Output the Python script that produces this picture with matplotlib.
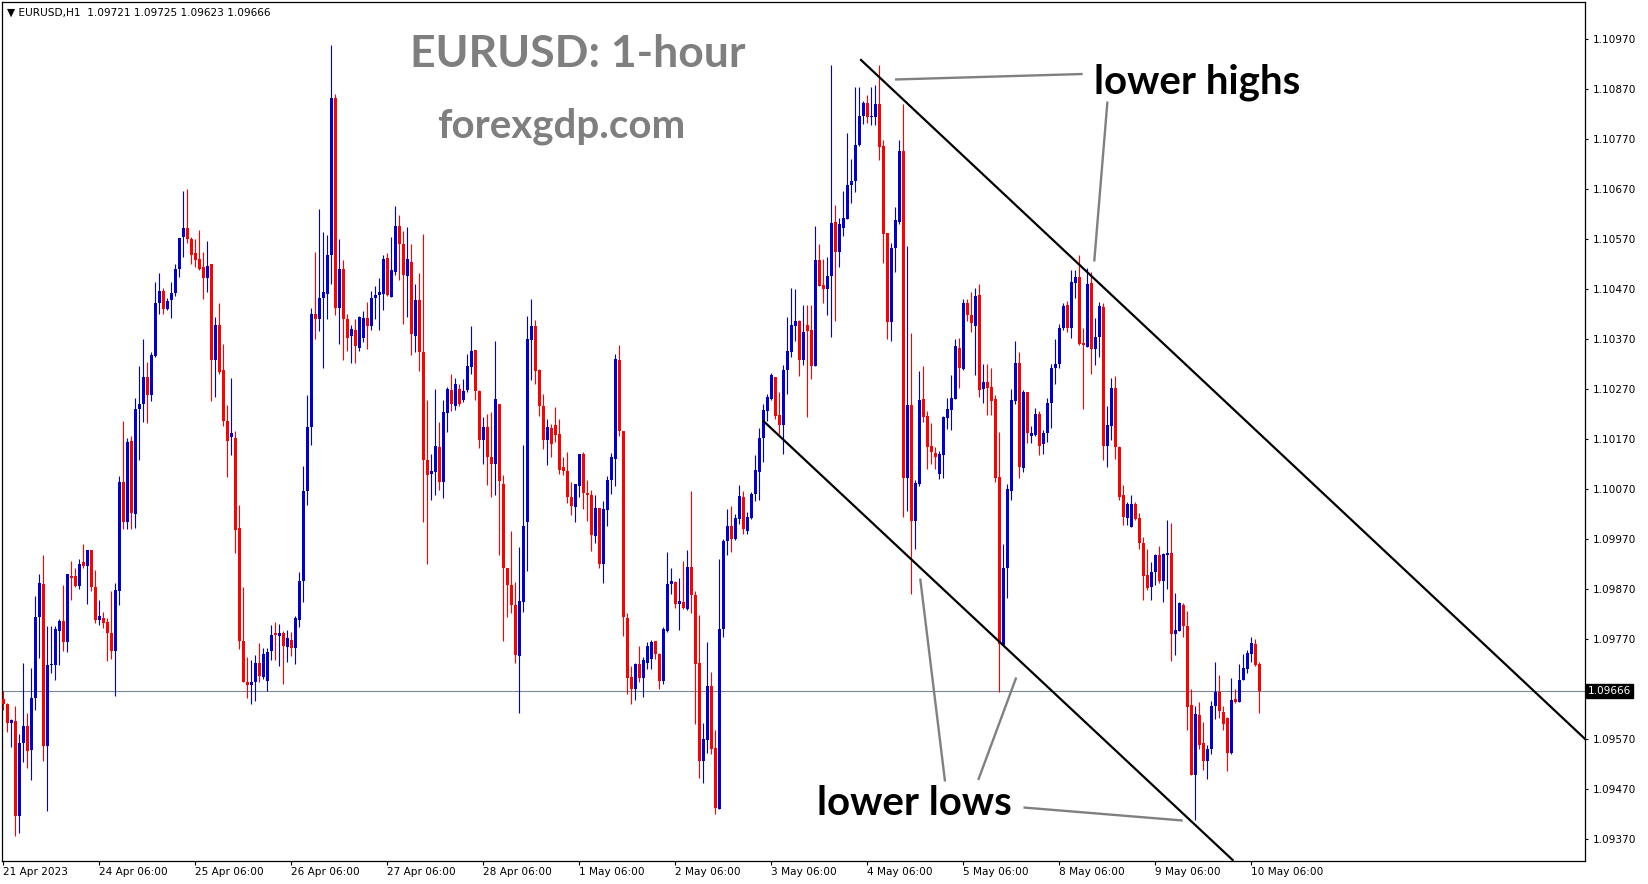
import matplotlib
matplotlib.use("Agg")
import matplotlib.pyplot as plt
import numpy as np

# EURUSD H1 candles, one entry per hour
opens = [
    1.09650, 1.09640, 1.09603, 1.09607, 1.09416, 1.09563, 1.09596, 1.09548, 1.09652, 1.09815,
    1.09880, 1.09556, 1.09718, 1.09719, 1.09787, 1.09806, 1.09765, 1.09897, 1.09897, 1.09877,
    1.09925, 1.09917, 1.09948, 1.09874, 1.09809, 1.09813, 1.09804, 1.09782, 1.09747, 1.09867,
    1.10085, 1.10004, 1.10166, 1.10021, 1.10231, 1.10240, 1.10294, 1.10259, 1.10337, 1.10442,
    1.10465, 1.10430, 1.10448, 1.10461, 1.10510, 1.10574, 1.10591, 1.10569, 1.10541, 1.10530,
    1.10513, 1.10491, 1.10519, 1.10328, 1.10398, 1.10308, 1.10207, 1.10174, 1.10172, 1.09992,
    1.09766, 1.09685, 1.09679, 1.09685, 1.09722, 1.09694, 1.09687, 1.09747, 1.09782, 1.09776,
    1.09782, 1.09754, 1.09769, 1.09752, 1.09809, 1.09886, 1.10066, 1.10194, 1.10420, 1.10410,
    1.10451, 1.10460, 1.10537, 1.10852, 1.10432, 1.10510, 1.10410, 1.10375, 1.10387, 1.10352,
    1.10372, 1.10411, 1.10396, 1.10451, 1.10458, 1.10460, 1.10532, 1.10454, 1.10504, 1.10596,
    1.10559, 1.10495, 1.10524, 1.10376, 1.10447, 1.10344, 1.10128, 1.10100, 1.10104, 1.10155,
    1.10085, 1.10223, 1.10268, 1.10236, 1.10270, 1.10248, 1.10268, 1.10315, 1.10348, 1.10266,
    1.10168, 1.10195, 1.10135, 1.10120, 1.10241, 1.10080, 1.09913, 1.09878, 1.09838, 1.09736,
    1.09845, 1.10005, 1.10367, 1.10396, 1.10308, 1.10236, 1.10168, 1.10193, 1.10198, 1.10180,
    1.10115, 1.10106, 1.10055, 1.10035, 1.10076, 1.10140, 1.10063, 1.10058, 1.09977, 1.10033,
    1.09920, 1.10028, 1.10088, 1.10130, 1.10328, 1.10186, 1.09813, 1.09695, 1.09671, 1.09720,
    1.09693, 1.09723, 1.09730, 1.09767, 1.09740, 1.09686, 1.09787, 1.09880, 1.09885, 1.09840,
    1.09845, 1.09830, 1.09914, 1.09858, 1.09723, 1.09527, 1.09568, 1.09676, 1.09553, 1.09430,
    1.09791, 1.09966, 1.09997, 1.09971, 1.10010, 1.10054, 1.09987, 1.10013, 1.10061, 1.10105,
    1.10172, 1.10226, 1.10251, 1.10295, 1.10218, 1.10199, 1.10309, 1.10344, 1.10396, 1.10405,
    1.10329, 1.10398, 1.10388, 1.10317, 1.10527, 1.10478, 1.10469, 1.10496, 1.10604, 1.10543,
    1.10592, 1.10609, 1.10678, 1.10686, 1.10758, 1.10815, 1.10841, 1.10814, 1.10814, 1.10840,
    1.10756, 1.10581, 1.10403, 1.10551, 1.10604, 1.10746, 1.10092, 1.10239, 1.10007, 1.10080,
    1.10250, 1.10217, 1.10156, 1.10142, 1.10101, 1.10138, 1.10213, 1.10229, 1.10250, 1.10353,
    1.10310, 1.10442, 1.10417, 1.10395, 1.10457, 1.10271, 1.10285, 1.10275, 1.10250, 1.10094,
    1.09759, 1.09912, 1.10066, 1.10246, 1.10323, 1.10112, 1.10265, 1.10177, 1.10179, 1.10221,
    1.10160, 1.10182, 1.10242, 1.10312, 1.10320, 1.10391, 1.10438, 1.10391, 1.10482, 1.10493,
    1.10362, 1.10355, 1.10482, 1.10350, 1.10373, 1.10434, 1.10156, 1.10197, 1.10272, 1.10155,
    1.10059, 1.10013, 1.09994, 1.10041, 1.10013, 1.09963, 1.09898, 1.09875, 1.09904, 1.09938,
    1.09887, 1.09939, 1.09942, 1.09780, 1.09786, 1.09839, 1.09797, 1.09638, 1.09498, 1.09619,
    1.09562, 1.09527, 1.09550, 1.09636, 1.09665, 1.09625, 1.09613, 1.09543, 1.09650, 1.09644,
    1.09689, 1.09710, 1.09741, 1.09761, 1.09721,
]
highs = [
    1.09667, 1.09642, 1.09611, 1.09637, 1.09581, 1.09722, 1.09622, 1.09713, 1.09856, 1.09901,
    1.09938, 1.09796, 1.09797, 1.09797, 1.09810, 1.09878, 1.09901, 1.09926, 1.09912, 1.09930,
    1.09960, 1.09948, 1.09948, 1.09908, 1.09848, 1.09825, 1.09813, 1.09867, 1.09882, 1.10097,
    1.10207, 1.10172, 1.10177, 1.10253, 1.10316, 1.10370, 1.10325, 1.10344, 1.10484, 1.10502,
    1.10472, 1.10452, 1.10484, 1.10519, 1.10572, 1.10666, 1.10669, 1.10574, 1.10569, 1.10588,
    1.10543, 1.10565, 1.10519, 1.10413, 1.10441, 1.10361, 1.10238, 1.10293, 1.10187, 1.10039,
    1.09875, 1.09734, 1.09728, 1.09738, 1.09763, 1.09752, 1.09752, 1.09798, 1.09804, 1.09800,
    1.09787, 1.09789, 1.09784, 1.09817, 1.09905, 1.10117, 1.10259, 1.10432, 1.10544, 1.10629,
    1.10583, 1.10577, 1.10957, 1.10860, 1.10570, 1.10528, 1.10420, 1.10398, 1.10410, 1.10416,
    1.10425, 1.10444, 1.10466, 1.10476, 1.10491, 1.10537, 1.10541, 1.10574, 1.10636, 1.10618,
    1.10585, 1.10594, 1.10559, 1.10479, 1.10501, 1.10579, 1.10249, 1.10141, 1.10270, 1.10204,
    1.10248, 1.10275, 1.10300, 1.10293, 1.10280, 1.10291, 1.10340, 1.10396, 1.10348, 1.10269,
    1.10215, 1.10220, 1.10225, 1.10366, 1.10241, 1.10098, 1.09913, 1.09987, 1.09885, 1.09955,
    1.10158, 1.10415, 1.10450, 1.10408, 1.10310, 1.10260, 1.10210, 1.10200, 1.10235, 1.10210,
    1.10135, 1.10145, 1.10085, 1.10080, 1.10140, 1.10145, 1.10088, 1.10068, 1.10058, 1.10033,
    1.10047, 1.10096, 1.10143, 1.10340, 1.10358, 1.10186, 1.09823, 1.09716, 1.09723, 1.09756,
    1.09735, 1.09764, 1.09769, 1.09767, 1.09742, 1.09794, 1.09944, 1.09912, 1.09887, 1.09892,
    1.09926, 1.09948, 1.10066, 1.09867, 1.09818, 1.09602, 1.09764, 1.09705, 1.09588, 1.09931,
    1.09971, 1.10030, 1.10036, 1.10020, 1.10079, 1.10066, 1.10025, 1.10064, 1.10138, 1.10192,
    1.10241, 1.10260, 1.10302, 1.10295, 1.10265, 1.10319, 1.10413, 1.10472, 1.10469, 1.10408,
    1.10437, 1.10437, 1.10437, 1.10596, 1.10560, 1.10530, 1.10533, 1.10918, 1.10638, 1.10612,
    1.10665, 1.10781, 1.10730, 1.10874, 1.10874, 1.10845, 1.10858, 1.10873, 1.10878, 1.10917,
    1.10768, 1.10581, 1.10561, 1.10633, 1.10768, 1.10840, 1.10555, 1.10381, 1.10088, 1.10306,
    1.10316, 1.10227, 1.10203, 1.10154, 1.10146, 1.10217, 1.10252, 1.10298, 1.10370, 1.10372,
    1.10449, 1.10449, 1.10464, 1.10471, 1.10480, 1.10320, 1.10320, 1.10312, 1.10258, 1.10185,
    1.09961, 1.10080, 1.10271, 1.10366, 1.10345, 1.10268, 1.10265, 1.10196, 1.10233, 1.10227,
    1.10188, 1.10252, 1.10320, 1.10370, 1.10399, 1.10442, 1.10446, 1.10507, 1.10507, 1.10538,
    1.10392, 1.10511, 1.10503, 1.10411, 1.10444, 1.10442, 1.10237, 1.10292, 1.10296, 1.10156,
    1.10078, 1.10044, 1.10059, 1.10044, 1.10023, 1.09975, 1.09950, 1.09925, 1.09940, 1.09956,
    1.09942, 1.10008, 1.10002, 1.09862, 1.09845, 1.09843, 1.09827, 1.09671, 1.09636, 1.09644,
    1.09604, 1.09559, 1.09646, 1.09725, 1.09698, 1.09636, 1.09615, 1.09692, 1.09671, 1.09720,
    1.09740, 1.09748, 1.09774, 1.09771, 1.09725,
]
lows = [
    1.09628, 1.09585, 1.09555, 1.09377, 1.09383, 1.09524, 1.09513, 1.09489, 1.09628, 1.09732,
    1.09527, 1.09426, 1.09702, 1.09689, 1.09719, 1.09747, 1.09745, 1.09849, 1.09874, 1.09871,
    1.09912, 1.09841, 1.09867, 1.09802, 1.09799, 1.09793, 1.09726, 1.09731, 1.09657, 1.09839,
    1.09990, 1.09990, 1.09990, 1.09992, 1.10129, 1.10205, 1.10203, 1.10247, 1.10335, 1.10419,
    1.10419, 1.10428, 1.10411, 1.10455, 1.10493, 1.10533, 1.10561, 1.10519, 1.10513, 1.10507,
    1.10450, 1.10463, 1.10247, 1.10255, 1.10300, 1.10196, 1.10095, 1.10139, 1.09942, 1.09751,
    1.09685, 1.09652, 1.09640, 1.09646, 1.09685, 1.09690, 1.09666, 1.09728, 1.09728, 1.09716,
    1.09681, 1.09725, 1.09737, 1.09721, 1.09795, 1.09844, 1.10039, 1.10159, 1.10370, 1.10385,
    1.10312, 1.10409, 1.10479, 1.10418, 1.10361, 1.10328, 1.10347, 1.10322, 1.10322, 1.10347,
    1.10363, 1.10350, 1.10387, 1.10409, 1.10388, 1.10427, 1.10455, 1.10454, 1.10498, 1.10488,
    1.10400, 1.10413, 1.10338, 1.10345, 1.10306, 1.10004, 1.09921, 1.10048, 1.10058, 1.10068,
    1.10053, 1.10185, 1.10227, 1.10228, 1.10236, 1.10245, 1.10265, 1.10300, 1.10248, 1.10153,
    1.10120, 1.10078, 1.10055, 1.10058, 1.09938, 1.09767, 1.09815, 1.09823, 1.09723, 1.09623,
    1.09825, 1.09907, 1.10288, 1.10281, 1.10216, 1.10150, 1.10118, 1.10135, 1.10165, 1.10101,
    1.10098, 1.10043, 1.10018, 1.10005, 1.10055, 1.10030, 1.10007, 1.09947, 1.09963, 1.09913,
    1.09883, 1.09997, 1.10061, 1.10077, 1.10177, 1.09776, 1.09660, 1.09640, 1.09649, 1.09685,
    1.09655, 1.09710, 1.09710, 1.09730, 1.09671, 1.09681, 1.09784, 1.09860, 1.09833, 1.09789,
    1.09830, 1.09828, 1.09823, 1.09600, 1.09492, 1.09482, 1.09543, 1.09541, 1.09421, 1.09430,
    1.09774, 1.09938, 1.09944, 1.09968, 1.10000, 1.09980, 1.09980, 1.10010, 1.10047, 1.10049,
    1.10125, 1.10206, 1.10249, 1.10211, 1.10180, 1.10140, 1.10260, 1.10334, 1.10366, 1.10297,
    1.10319, 1.10214, 1.10290, 1.10317, 1.10476, 1.10442, 1.10417, 1.10373, 1.10405, 1.10513,
    1.10575, 1.10609, 1.10641, 1.10663, 1.10756, 1.10800, 1.10801, 1.10797, 1.10797, 1.10727,
    1.10522, 1.10370, 1.10366, 1.10503, 1.10600, 1.10014, 1.10026, 1.09860, 1.09950, 1.10076,
    1.10204, 1.10111, 1.10121, 1.10111, 1.10091, 1.10092, 1.10190, 1.10188, 1.10250, 1.10273,
    1.10308, 1.10406, 1.10384, 1.10298, 1.10254, 1.10243, 1.10218, 1.10218, 1.10084, 1.09665,
    1.09757, 1.09852, 1.10049, 1.10240, 1.10092, 1.10105, 1.10163, 1.10163, 1.10177, 1.10138,
    1.10140, 1.10165, 1.10192, 1.10281, 1.10312, 1.10387, 1.10384, 1.10372, 1.10451, 1.10358,
    1.10230, 1.10354, 1.10300, 1.10319, 1.10335, 1.10128, 1.10115, 1.10168, 1.10130, 1.10048,
    1.09998, 1.09998, 1.09994, 1.10008, 1.09950, 1.09849, 1.09868, 1.09849, 1.09879, 1.09883,
    1.09845, 1.09870, 1.09726, 1.09738, 1.09786, 1.09774, 1.09588, 1.09498, 1.09409, 1.09550,
    1.09508, 1.09491, 1.09541, 1.09611, 1.09613, 1.09588, 1.09506, 1.09541, 1.09642, 1.09644,
    1.09688, 1.09702, 1.09725, 1.09717, 1.09623,
]
closes = [
    1.09640, 1.09602, 1.09608, 1.09416, 1.09563, 1.09596, 1.09546, 1.09652, 1.09815, 1.09882,
    1.09556, 1.09719, 1.09721, 1.09791, 1.09806, 1.09765, 1.09901, 1.09893, 1.09877, 1.09921,
    1.09917, 1.09948, 1.09874, 1.09809, 1.09816, 1.09802, 1.09782, 1.09747, 1.09868, 1.10085,
    1.10004, 1.10164, 1.10023, 1.10231, 1.10240, 1.10294, 1.10259, 1.10339, 1.10442, 1.10465,
    1.10430, 1.10445, 1.10461, 1.10510, 1.10572, 1.10591, 1.10569, 1.10537, 1.10528, 1.10510,
    1.10491, 1.10515, 1.10328, 1.10398, 1.10305, 1.10207, 1.10167, 1.10183, 1.09989, 1.09766,
    1.09685, 1.09679, 1.09685, 1.09723, 1.09696, 1.09741, 1.09745, 1.09778, 1.09778, 1.09782,
    1.09756, 1.09772, 1.09752, 1.09813, 1.09886, 1.10066, 1.10194, 1.10420, 1.10410, 1.10451,
    1.10464, 1.10537, 1.10852, 1.10432, 1.10510, 1.10410, 1.10372, 1.10390, 1.10356, 1.10414,
    1.10411, 1.10396, 1.10451, 1.10458, 1.10463, 1.10530, 1.10457, 1.10508, 1.10596, 1.10559,
    1.10497, 1.10530, 1.10379, 1.10447, 1.10344, 1.10128, 1.10099, 1.10106, 1.10156, 1.10085,
    1.10224, 1.10270, 1.10241, 1.10281, 1.10240, 1.10266, 1.10316, 1.10346, 1.10266, 1.10168,
    1.10195, 1.10135, 1.10120, 1.10251, 1.10086, 1.09913, 1.09878, 1.09838, 1.09738, 1.09846,
    1.09996, 1.10369, 1.10396, 1.10307, 1.10236, 1.10168, 1.10195, 1.10160, 1.10178, 1.10108,
    1.10106, 1.10055, 1.10037, 1.10080, 1.10140, 1.10063, 1.10058, 1.09978, 1.10033, 1.09920,
    1.10031, 1.10088, 1.10135, 1.10330, 1.10186, 1.09815, 1.09693, 1.09671, 1.09721, 1.09693,
    1.09728, 1.09757, 1.09764, 1.09740, 1.09686, 1.09791, 1.09880, 1.09887, 1.09840, 1.09846,
    1.09833, 1.09915, 1.09858, 1.09720, 1.09527, 1.09570, 1.09676, 1.09551, 1.09433, 1.09791,
    1.09966, 1.09997, 1.09971, 1.10012, 1.10057, 1.09990, 1.10015, 1.10061, 1.10108, 1.10172,
    1.10229, 1.10255, 1.10298, 1.10216, 1.10199, 1.10309, 1.10346, 1.10398, 1.10405, 1.10329,
    1.10383, 1.10385, 1.10317, 1.10527, 1.10476, 1.10469, 1.10496, 1.10602, 1.10543, 1.10599,
    1.10611, 1.10678, 1.10686, 1.10758, 1.10815, 1.10842, 1.10814, 1.10816, 1.10840, 1.10754,
    1.10580, 1.10403, 1.10552, 1.10608, 1.10746, 1.10092, 1.10239, 1.10007, 1.10082, 1.10248,
    1.10215, 1.10155, 1.10144, 1.10134, 1.10140, 1.10214, 1.10231, 1.10252, 1.10356, 1.10312,
    1.10441, 1.10417, 1.10401, 1.10455, 1.10268, 1.10285, 1.10272, 1.10247, 1.10092, 1.09761,
    1.09912, 1.10070, 1.10248, 1.10323, 1.10115, 1.10264, 1.10182, 1.10182, 1.10221, 1.10157,
    1.10182, 1.10242, 1.10312, 1.10320, 1.10391, 1.10436, 1.10391, 1.10484, 1.10493, 1.10360,
    1.10359, 1.10480, 1.10350, 1.10373, 1.10436, 1.10156, 1.10198, 1.10272, 1.10155, 1.10054,
    1.10015, 1.10040, 1.10041, 1.10011, 1.09963, 1.09896, 1.09873, 1.09904, 1.09938, 1.09887,
    1.09940, 1.09942, 1.09780, 1.09789, 1.09843, 1.09797, 1.09634, 1.09498, 1.09620, 1.09558,
    1.09526, 1.09550, 1.09636, 1.09665, 1.09627, 1.09600, 1.09543, 1.09648, 1.09644, 1.09689,
    1.09712, 1.09743, 1.09763, 1.09719, 1.09666,
]

last_price = 1.09666

# date labels sit every 24 bars
date_ticks = [0, 24, 48, 72, 96, 120, 144, 168, 192, 216, 240, 264, 288, 312]
date_labels = ["21 Apr 2023", "24 Apr 06:00", "25 Apr 06:00", "26 Apr 06:00",
               "27 Apr 06:00", "28 Apr 06:00", "1 May 06:00", "2 May 06:00",
               "3 May 06:00", "4 May 06:00", "5 May 06:00", "8 May 06:00",
               "9 May 06:00", "10 May 06:00"]

price_ticks = [1.09370, 1.09470, 1.09570, 1.09770, 1.09870, 1.09970, 1.10070,
               1.10170, 1.10270, 1.10370, 1.10470, 1.10570, 1.10670, 1.10770,
               1.10870, 1.10970]

# channel lines drawn on the chart: (bar, price) end points
upper_line_x = [214.4, 395.4]
upper_line_y = [1.10928, 1.09570]
lower_line_x = [190.0, 307.3]
lower_line_y = [1.10206, 1.09328]

# grey pointer strokes for the labels
pointers = [
    ([222.9, 269.8], [1.10889, 1.10900]),
    ([276.0, 272.7], [1.10845, 1.10525]),
    ([229.2, 235.4], [1.09891, 1.09485]),
    ([253.2, 243.7], [1.09693, 1.09488]),
    ([255.0, 294.8], [1.09433, 1.09407]),
]

o = np.array(opens)
h = np.array(highs)
l = np.array(lows)
c = np.array(closes)
x = np.arange(len(c))

bull = "#0000d2"
bear = "#ff0000"
cols = np.where(c >= o, bull, bear)

fig = plt.figure(figsize=(16.49, 8.84), dpi=100)
ax = fig.add_axes([0.00121, 0.02658, 0.96028, 0.97116])

ax.axhline(last_price, color="#7b8794", lw=0.8, zorder=1)

ax.vlines(x, l, h, colors=cols, linewidth=0.8, zorder=2)
body = np.maximum(np.abs(c - o), 0.00002)
ax.bar(x, body, bottom=np.minimum(o, c), width=0.75, color=cols,
       linewidth=0, zorder=3)

ax.plot(upper_line_x, upper_line_y, color="black", lw=1.6, zorder=4)
ax.plot(lower_line_x, lower_line_y, color="black", lw=1.6, zorder=4)
for px, py in pointers:
    ax.plot(px, py, color="#808080", lw=1.7, zorder=4, solid_capstyle="butt")

ax.set_xlim(-0.33, 395.5)
ax.set_ylim(1.09327, 1.11044)

ax.yaxis.tick_right()
ax.set_yticks(price_ticks)
ax.set_yticklabels(["%.5f" % v for v in price_ticks])
ax.tick_params(axis="y", direction="out", length=2.5, width=0.8,
               labelsize=7.6, pad=3)
ax.set_xticks(date_ticks)
ax.set_xticklabels(date_labels)
for lab in ax.get_xticklabels():
    lab.set_ha("left")
ax.tick_params(axis="x", direction="out", length=3, width=0.8,
               labelsize=7.6, pad=1.5)
for sp in ax.spines.values():
    sp.set_linewidth(0.9)
    sp.set_color("black")

# current price tag on the price scale
ax.text(1.0015, last_price, "%.5f" % last_price, transform=ax.get_yaxis_transform(),
        color="white", fontsize=7.6, va="center", ha="left", clip_on=False,
        bbox=dict(boxstyle="square,pad=0.2", fc="black", ec="black"))

fig.text(7 / 1649, 1 - 13 / 884,
         "\u25bc EURUSD,H1  %.5f %.5f %.5f %.5f" % (o[-1], h[-1], l[-1], c[-1]),
         fontsize=7.6, va="center", ha="left")

ax.text(143.7, 1.10914, "EURUSD: 1-hour", ha="center", va="baseline",
        fontsize=32, fontweight="bold", family="Lato", color="#7f7f7f")
ax.text(139.4, 1.10772, "forexgdp.com", ha="center", va="baseline",
        fontsize=29, fontweight="bold", family="Lato", color="#7f7f7f")
ax.text(298.3, 1.10861, "lower highs", ha="center", va="baseline",
        fontsize=29, fontweight="bold", family="Lato", color="black")
ax.text(227.7, 1.09418, "lower lows", ha="center", va="baseline",
        fontsize=29, fontweight="bold", family="Lato", color="black")

fig.savefig("out.png", dpi=100)
